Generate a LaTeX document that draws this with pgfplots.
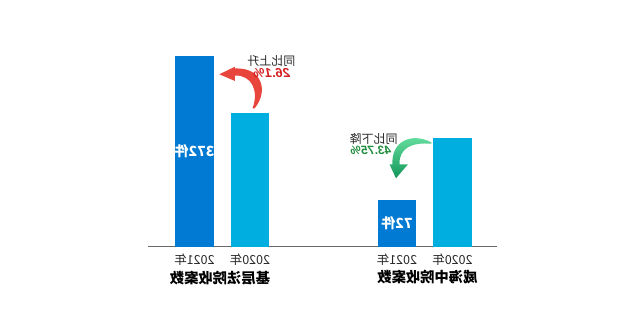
\documentclass[border=0pt]{standalone}
\usepackage{graphicx}
\usepackage{pgfplots}
\pgfplotsset{compat=1.18}
\usepackage{fontspec}
\setmainfont{Noto Sans CJK SC}
\newfontfamily\latin{Liberation Sans}

\definecolor{barDark}{RGB}{0,122,210}
\definecolor{barLight}{RGB}{0,174,224}
\definecolor{upRed}{RGB}{232,69,60}
\definecolor{upTxt}{RGB}{212,32,32}
\definecolor{greenTop}{RGB}{110,230,165}
\definecolor{greenBot}{RGB}{20,150,90}
\definecolor{greenTxt}{RGB}{30,140,60}
\definecolor{txt}{RGB}{40,40,40}
\definecolor{baseline}{RGB}{105,105,105}

\pgfplotsset{
  casebars/.style={
    scale only axis, width=349pt, height=200pt,
    xmin=143, xmax=492, ymin=0,
    ybar, bar width=38.5, bar shift=0pt,
    clip=false,
  },
}

\begin{document}
\reflectbox{%
\begin{tikzpicture}[x=1pt,y=1pt]
\useasboundingbox (0,0) rectangle (640,315);

% grassroots courts: 2020 vs 2021
\begin{axis}[casebars,
    at={(143pt,68.3pt)}, anchor=south west,
    ymax=390.1,
    axis y line=none,
    axis x line*=bottom,
    x axis line style={-, draw=baseline, line width=1.2pt},
    xtick={187.5,243,390,445.5},
    xticklabels={2020年,2021年,2020年,2021年},
    xtick style={draw=none},
    xticklabel style={font=\fontsize{12.5}{14}\selectfont, text=txt, yshift=1pt},
  ]
  \addplot[fill=barLight, draw=none] coordinates {(390,260)};
  \addplot[fill=barDark, draw=none] coordinates {(445.5,372)};
  \node[text=white, font=\fontsize{14}{16}\selectfont\bfseries]
    at (axis cs:445.5,186) {372件};
\end{axis}

% Weihai intermediate court: 2020 vs 2021
\begin{axis}[casebars,
    at={(143pt,68.3pt)}, anchor=south west,
    ymax=308.4,
    axis lines=none, xtick=\empty, ytick=\empty,
  ]
  \addplot[fill=barLight, draw=none] coordinates {(187.5,167)};
  \addplot[fill=barDark, draw=none] coordinates {(243,72)};
  \node[text=white, font=\fontsize{14}{16}\selectfont\bfseries]
    at (axis cs:243,36) {72件};
\end{axis}

% category captions
\node[font=\fontsize{14.3}{16}\selectfont\bfseries, text=black] at (420,37) {基层法院收案数};
\node[font=\fontsize{14.3}{16}\selectfont\bfseries, text=black] at (212.5,38) {威海中院收案数};

% rise arrow
\fill[upRed] (385.5,206.5) .. controls (371,224) and (378,248) .. (405,246.5)
  -- (405,248.3) -- (420.7,240.7) -- (405,234) -- (405,239.5)
  .. controls (388,240) and (381,224) .. (387.5,206.5) -- cycle;
\node[font=\fontsize{12}{14}\selectfont, text=txt] at (368.5,254) {同比上升};
\node[font=\latin\fontsize{13}{15}\selectfont\bfseries\itshape, text=upTxt] at (368.3,241.5) {26.1\%};

% fall arrow
\shade[top color=greenTop, bottom color=greenBot]
  (208.5,172.5) .. controls (228,183) and (249,174) .. (247.5,150.7)
  -- (250.5,150.7) -- (244,136.7) -- (232,150.7) -- (240.5,150.7)
  .. controls (241,167) and (228,173) .. (208.5,171.2) -- cycle;
\node[anchor=east, font=\fontsize{12}{14}\selectfont, text=txt] at (293.8,176) {同比下降};
\node[anchor=east, font=\latin\fontsize{12}{14}\selectfont\bfseries\itshape, text=greenTxt] at (293,165) {43.75\%};
\end{tikzpicture}%
}
\end{document}
